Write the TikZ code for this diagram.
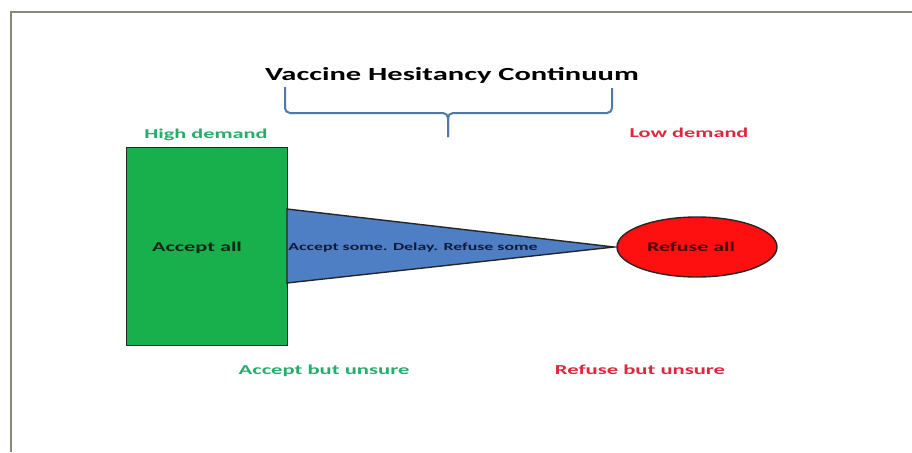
\documentclass[tikz,border=0pt]{standalone}
\usepackage{fontspec}
\usepackage{graphicx}
\setmainfont{Carlito}
\usetikzlibrary{shapes.geometric}
\definecolor{framegray}{RGB}{135,135,122}
\definecolor{bracecol}{RGB}{80,120,168}
\definecolor{txtgreen}{RGB}{40,172,105}
\definecolor{txtred}{RGB}{222,38,62}
\definecolor{boxgreen}{RGB}{24,176,76}
\definecolor{triblue}{RGB}{78,126,196}
\definecolor{ellred}{RGB}{255,16,16}
\definecolor{navytxt}{RGB}{16,26,62}
\definecolor{darkgr}{RGB}{18,40,22}
\definecolor{darkrd}{RGB}{70,10,10}
\newcommand\wide[1]{\scalebox{1.65}[1]{#1}}
\tikzset{
  lbl/.style={inner sep=0pt, anchor=base, font=\bfseries},
  bracepath/.style={draw=bracecol, line width=2pt, rounded corners=5pt},
  shapeline/.style={draw=black!85, line width=1.4pt}
}
\begin{document}
\begin{tikzpicture}[x=1pt,y=-1pt]
\useasboundingbox (0,0) rectangle (912,452);
\fill[white] (0,0) rectangle (912,452);
% frame
\coordinate (fbl) at (11,452);
\coordinate (ftl) at (11,12);
\coordinate (ftr) at (912,12);
\draw[framegray, line width=2pt] (fbl) -- (ftl) -- (ftr);
% title
\node[lbl, font=\bfseries\fontsize{18.5}{20}\selectfont] (title) at (452,80) {\wide{Vaccine Hesitancy Continuum}};
% brace
\coordinate (bl) at (285,87);
\coordinate (br) at (612,88);
\coordinate (bm) at (448,113);
\coordinate (btip) at (448,137);
\draw[bracepath] (bl) |- (bm) -- (btip);
\draw[bracepath] (br) |- (bm) -- (btip);
% side labels
\node[lbl, text=txtgreen, font=\bfseries\fontsize{13.5}{15}\selectfont] (high) at (206,138) {\wide{High demand}};
\node[lbl, text=txtred, font=\bfseries\fontsize{13.5}{15}\selectfont] (low) at (689,137) {\wide{Low demand}};
% green box
\node[shapeline, fill=boxgreen, minimum width=161pt, minimum height=198pt, inner sep=0pt, anchor=north west] (acc) at (126,147) {};
\node[lbl, text=darkgr, font=\bfseries\fontsize{13.5}{15}\selectfont] (acctxt) at (197,251) {\wide{Accept all}};
% triangle
\coordinate (t1) at (287,209);
\coordinate (t2) at (287,283);
\coordinate (tip) at (614,247);
\draw[shapeline, fill=triblue] (t1) -- (tip) -- (t2) -- cycle;
\node[lbl, text=navytxt, font=\bfseries\fontsize{10.8}{12}\selectfont] (sometxt) at (413,250) {\wide{Accept some. Delay. Refuse some}};
% ellipse
\node[ellipse, shapeline, fill=ellred, minimum width=160pt, minimum height=60pt, inner sep=0pt] (ref) at (697,247) {};
\node[lbl, text=darkrd, font=\bfseries\fontsize{13.3}{15}\selectfont] (reftxt) at (691,251) {\wide{Refuse all}};
% bottom labels
\node[lbl, text=txtgreen, font=\bfseries\fontsize{13.7}{15}\selectfont] (accun) at (324,374) {\wide{Accept but unsure}};
\node[lbl, text=txtred, font=\bfseries\fontsize{13.7}{15}\selectfont] (refun) at (640,374) {\wide{Refuse but unsure}};
\end{tikzpicture}
\end{document}
